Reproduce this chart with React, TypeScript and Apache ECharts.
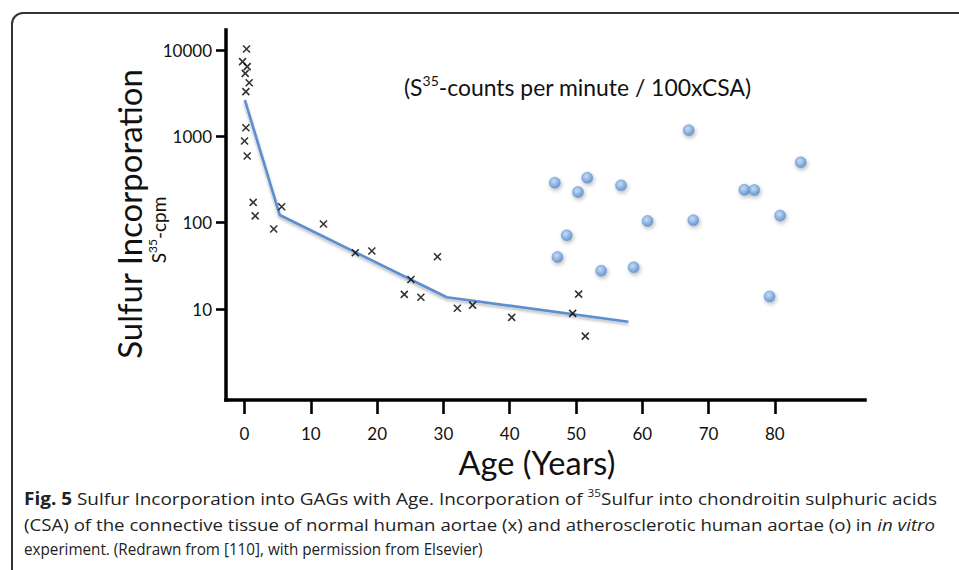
import React, { useEffect, useRef } from "react";
import * as echarts from "echarts";

// ---- data ----
const xTickValues = [0, 10, 20, 30, 40, 50, 60, 70, 80];
const yTickValues = [10, 100, 1000, 10000];

// normal human aortae (x)
const normalAge = [0.3, -0.3, 0.4, 0.1, 0.7, 0.2, 0.2, 0.0, 0.4, 1.3, 1.6, 4.4, 5.6, 11.9, 16.7, 19.2, 25.1, 24.1, 26.6, 29.1, 32.1, 34.4, 40.3, 49.5, 50.4, 51.4];
const normalCpm = [10300, 7350, 6430, 5380, 4190, 3300, 1260, 885, 593, 172, 120, 84.5, 153, 96.6, 44.9, 47, 22, 14.8, 13.7, 40.4, 10.2, 11.1, 8.0, 8.9, 14.9, 4.86];

// atherosclerotic human aortae (o)
const atheroAge = [67.0, 83.9, 46.8, 51.7, 50.3, 56.8, 75.4, 76.9, 80.8, 60.8, 67.7, 48.6, 47.2, 53.8, 58.7, 79.2];
const atheroCpm = [1178, 501, 291, 332, 227, 271, 241, 239, 121, 105, 107, 71.4, 40.1, 27.8, 30.4, 14.0];

// trend line
const trendAge = [0.05, 5.3, 30.5, 57.9];
const trendCpm = [2640, 123, 13.7, 7.13];

const annotationParts = ["(S", "35", "-counts per minute / 100xCSA)"];
const yTitle = "Sulfur Incorporation";
const ySubParts = ["S", "35", "-cpm"];
const xTitle = "Age (Years)";

const captionLines = [
  "{b|Fig. 5}{n| Sulfur Incorporation into GAGs with Age. Incorporation of }{sup|35}{n|Sulfur into chondroitin sulphuric acids}",
  "{n|(CSA) of the connective tissue of normal human aortae (x) and atherosclerotic human aortae (o) in }{i|in vitro}",
  "{n|experiment. (Redrawn from [110], with permission from Elsevier)}",
];
const captionRightEdge = [937, 935, 483];

const FONT = "Lato";
const CAP_FONT = "Open Sans";
const CAP_SIZE = 17;
const SUP_SIZE = 10.5;

export default function App() {
  const ref = useRef<HTMLDivElement>(null);

  useEffect(() => {
    const chart = echarts.init(ref.current!, null, { renderer: "svg" });
    const lg = (v: number) => Math.log10(v);

    const crosses = normalAge.map((a, i) => [a, lg(normalCpm[i])]);
    const balls = atheroAge.map((a, i) => [a, lg(atheroCpm[i])]);
    const trend = trendAge.map((a, i) => [a, lg(trendCpm[i])]);

    // ---- caption layout: each line fitted to the reference width ----
    const ctx = document.createElement("canvas").getContext("2d")!;
    const fontOf = (k: string) => {
      if (k === "b") return `normal bold ${CAP_SIZE}px "${CAP_FONT}"`;
      if (k === "i") return `italic normal ${CAP_SIZE}px "${CAP_FONT}"`;
      if (k === "sup") return `normal normal ${SUP_SIZE}px "${CAP_FONT}"`;
      return `normal normal ${CAP_SIZE}px "${CAP_FONT}"`;
    };
    const lineWidth = (line: string) => {
      const re = /\{(\w+)\|([^}]*)\}/g;
      let m: RegExpExecArray | null;
      let w = 0;
      while ((m = re.exec(line))) {
        ctx.font = fontOf(m[1]);
        w += ctx.measureText(m[2]).width;
      }
      return w;
    };
    const capRich = {
      n: { fontFamily: CAP_FONT, fontSize: CAP_SIZE, lineHeight: 22, fill: "#222" },
      b: { fontFamily: CAP_FONT, fontSize: CAP_SIZE, fontWeight: "bold", lineHeight: 22, fill: "#222" },
      i: { fontFamily: CAP_FONT, fontSize: CAP_SIZE, fontStyle: "italic", lineHeight: 22, fill: "#222" },
      sup: { fontFamily: CAP_FONT, fontSize: SUP_SIZE, lineHeight: 13, verticalAlign: "top", fill: "#222" },
    };
    const capLeft = 24;
    const capY = [498, 524, 549];
    const captionGraphics = captionLines.map((line, li) => {
      const natural = lineWidth(line);
      const sx = natural > 0 ? (captionRightEdge[li] - capLeft) / natural : 1;
      return {
        type: "text",
        x: capLeft,
        y: capY[li],
        scaleX: sx,
        silent: true,
        style: {
          text: line,
          align: "left",
          verticalAlign: "middle",
          rich: capRich,
        },
      };
    });

    const option: any = {
      animation: false,
      backgroundColor: "#ffffff",
      grid: {
        left: 226,
        top: 30,
        right: 94,
        bottom: 170,
        containLabel: false,
        outerBoundsMode: "none",
      },
      xAxis: {
        type: "value",
        min: -2.8,
        max: 93.6,
        splitLine: { show: false },
        axisLine: {
          show: true,
          onZero: false,
          lineStyle: { color: "#000", width: 3.5, cap: "square" },
        },
        axisTick: {
          show: true,
          length: 14,
          customValues: xTickValues,
          lineStyle: { color: "#000", width: 2.6 },
        },
        axisLabel: {
          customValues: xTickValues,
          fontFamily: FONT,
          fontSize: 17,
          lineHeight: 17,
          color: "#111",
          margin: 25,
        },
      },
      yAxis: {
        type: "value",
        min: -0.054,
        max: 4.233,
        splitLine: { show: false },
        axisLine: {
          show: true,
          onZero: false,
          lineStyle: { color: "#000", width: 3.5, cap: "square" },
        },
        axisTick: {
          show: true,
          length: 10,
          customValues: yTickValues.map((v) => Math.log10(v)),
          lineStyle: { color: "#000", width: 2.6 },
        },
        axisLabel: {
          customValues: yTickValues.map((v) => Math.log10(v)),
          formatter: (v: number) => String(Math.round(Math.pow(10, v))),
          fontFamily: FONT,
          fontSize: 17,
          color: "#111",
          margin: 14,
        },
      },
      series: [
        {
          type: "line",
          data: trend,
          symbol: "none",
          z: 2,
          lineStyle: {
            color: "#5b8fd0",
            width: 2.6,
            shadowColor: "rgba(0,0,0,0.3)",
            shadowBlur: 3,
            shadowOffsetY: 2,
          },
        },
        {
          type: "scatter",
          data: crosses,
          symbol: "path://M0,0L10,10M10,0L0,10",
          symbolSize: 7,
          z: 3,
          itemStyle: {
            color: "rgba(0,0,0,0)",
            borderColor: "#000",
            borderWidth: 1.6,
          },
        },
        {
          type: "scatter",
          data: balls,
          symbol: "circle",
          symbolSize: 11,
          z: 3,
          itemStyle: {
            color: {
              type: "radial",
              x: 0.42,
              y: 0.38,
              r: 0.65,
              colorStops: [
                { offset: 0, color: "#c2d9f5" },
                { offset: 0.55, color: "#7eabe3" },
                { offset: 1, color: "#4f84c9" },
              ],
            },
            borderColor: "#5a8cd0",
            borderWidth: 0.6,
            shadowColor: "rgba(0,0,0,0.35)",
            shadowBlur: 4,
            shadowOffsetX: 1,
            shadowOffsetY: 2,
          },
        },
      ],
      graphic: [
        {
          type: "rect",
          shape: { x: 12, y: 13, width: 1000, height: 620, r: 11 },
          style: { fill: "none", stroke: "#333", lineWidth: 2 },
          silent: true,
          z: -1,
        },
        {
          type: "text",
          x: 129,
          y: 214,
          rotation: Math.PI / 2,
          style: {
            text: yTitle,
            fontFamily: FONT,
            fontSize: 33,
            fill: "#111",
            align: "center",
            verticalAlign: "middle",
          },
        },
        {
          type: "text",
          x: 158,
          y: 230,
          rotation: Math.PI / 2,
          style: {
            text: `{s|${ySubParts[0]}}{sup|${ySubParts[1]}}{s|${ySubParts[2]}}`,
            align: "center",
            verticalAlign: "middle",
            fill: "#111",
            rich: {
              s: { fontFamily: FONT, fontSize: 19, lineHeight: 24, fill: "#111" },
              sup: { fontFamily: FONT, fontSize: 12, lineHeight: 14, verticalAlign: "top", fill: "#111" },
            },
          },
        },
        {
          type: "text",
          x: 537,
          y: 462,
          style: {
            text: xTitle,
            fontFamily: FONT,
            fontSize: 32.5,
            lineHeight: 30,
            fill: "#111",
            align: "center",
            verticalAlign: "middle",
          },
        },
        {
          type: "text",
          x: 404,
          y: 87,
          style: {
            text: `{s|${annotationParts[0]}}{sup|${annotationParts[1]}}{s|${annotationParts[2]}}`,
            align: "left",
            verticalAlign: "middle",
            rich: {
              s: { fontFamily: FONT, fontSize: 22.9, lineHeight: 28, fill: "#111" },
              sup: { fontFamily: FONT, fontSize: 14, lineHeight: 17, verticalAlign: "top", fill: "#111" },
            },
          },
        },
        ...captionGraphics,
      ],
    };

    chart.setOption(option);
    return () => chart.dispose();
  }, []);

  return (
    <div
      ref={ref}
      style={{ position: "fixed", left: 0, top: 0, width: 959, height: 570, background: "#fff" }}
    />
  );
}
